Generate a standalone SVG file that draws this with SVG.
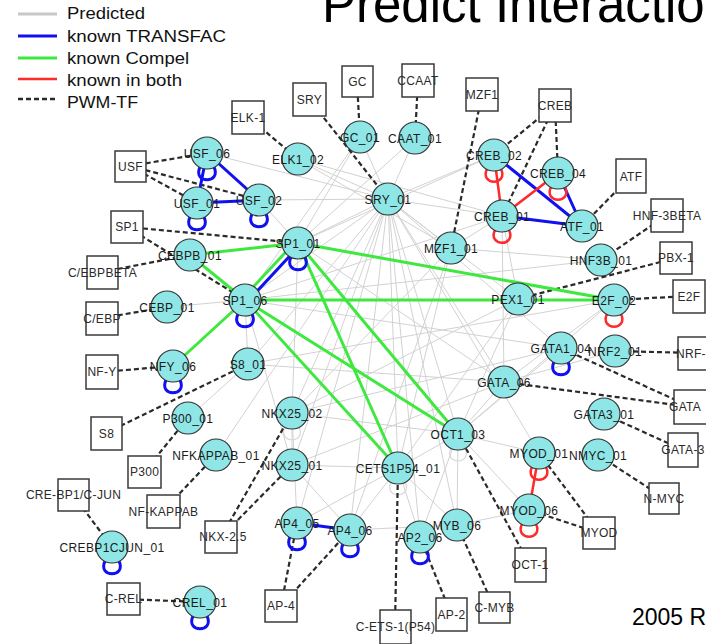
<svg xmlns="http://www.w3.org/2000/svg" width="706" height="644" viewBox="0 0 706 644">
<style>
text{font-family:"Liberation Sans",Arial,sans-serif}
.p{stroke:#d2d2d2;stroke-width:1;fill:none}
.t{stroke:#1010f0;stroke-width:3;fill:none}
.c{stroke:#3ee83e;stroke-width:3;fill:none}
.b{stroke:#ff2a2a;stroke-width:2.5;fill:none}
.d{stroke:#2a2a2a;stroke-width:2.2;stroke-dasharray:5,3;fill:none}
.pl{stroke:#d8d8d8;stroke-width:1.2;fill:none}
.n circle{fill:#8fe6e6;stroke:#333;stroke-width:1.2}
.n text{font-size:12px;fill:#1a1a1a;text-anchor:middle;letter-spacing:0.4px}
.x rect{fill:#fff;stroke:#3a3a3a;stroke-width:1.5}
.x text{font-size:12px;fill:#2a2a2a;text-anchor:middle;letter-spacing:0.3px}
.lg{font-size:16px;fill:#111}
</style>
<rect width="706" height="644" fill="#fff"/>
<text x="322" y="22" font-size="51" fill="#000">Predict Interactio</text>
<text x="632" y="625" font-size="23" fill="#000">2005 R</text>
<g id="legend">
<line x1="18" y1="14" x2="57" y2="14" stroke="#c8c8c8" stroke-width="3"/>
<line x1="18" y1="36" x2="57" y2="36" stroke="#1010f0" stroke-width="3"/>
<line x1="18" y1="58" x2="57" y2="58" stroke="#3ee83e" stroke-width="3"/>
<line x1="18" y1="79" x2="57" y2="79" stroke="#ff2a2a" stroke-width="2.5"/>
<line x1="18" y1="99" x2="57" y2="99" stroke="#2a2a2a" stroke-width="2.5" stroke-dasharray="5,3"/>
<text class="lg" x="67" y="19" textLength="78" lengthAdjust="spacingAndGlyphs">Predicted</text>
<text class="lg" x="67" y="42" textLength="159" lengthAdjust="spacingAndGlyphs">known TRANSFAC</text>
<text class="lg" x="67" y="64" textLength="122" lengthAdjust="spacingAndGlyphs">known Compel</text>
<text class="lg" x="67" y="86" textLength="115" lengthAdjust="spacingAndGlyphs">known in both</text>
<text class="lg" x="67" y="108" textLength="71" lengthAdjust="spacingAndGlyphs">PWM-TF</text>
</g>
<g id="connectors">
<g id="predicted">
<line class="p" x1="388" y1="199" x2="360" y2="137"/>
<line class="p" x1="388" y1="199" x2="415" y2="138"/>
<line class="p" x1="388" y1="199" x2="298" y2="159"/>
<line class="p" x1="388" y1="199" x2="259" y2="200"/>
<line class="p" x1="388" y1="199" x2="207" y2="153"/>
<line class="p" x1="388" y1="199" x2="298" y2="243"/>
<line class="p" x1="388" y1="199" x2="245" y2="300"/>
<line class="p" x1="388" y1="199" x2="494" y2="155"/>
<line class="p" x1="388" y1="199" x2="502" y2="216"/>
<line class="p" x1="388" y1="199" x2="451" y2="248"/>
<line class="p" x1="388" y1="199" x2="518" y2="299"/>
<line class="p" x1="388" y1="199" x2="561" y2="348"/>
<line class="p" x1="388" y1="199" x2="504" y2="382"/>
<line class="p" x1="388" y1="199" x2="458" y2="434"/>
<line class="p" x1="388" y1="199" x2="398" y2="468"/>
<line class="p" x1="388" y1="199" x2="292" y2="413"/>
<line class="p" x1="388" y1="199" x2="292" y2="465"/>
<line class="p" x1="388" y1="199" x2="297" y2="523"/>
<line class="p" x1="388" y1="199" x2="350" y2="530"/>
<line class="p" x1="388" y1="199" x2="420" y2="537"/>
<line class="p" x1="388" y1="199" x2="457" y2="525"/>
<line class="p" x1="388" y1="199" x2="539" y2="453"/>
<line class="p" x1="388" y1="199" x2="248" y2="364"/>
<line class="p" x1="388" y1="199" x2="216" y2="455"/>
<line class="p" x1="360" y1="137" x2="298" y2="243"/>
<line class="p" x1="360" y1="137" x2="245" y2="300"/>
<line class="p" x1="415" y1="138" x2="298" y2="243"/>
<line class="p" x1="298" y1="159" x2="451" y2="248"/>
<line class="p" x1="298" y1="159" x2="502" y2="216"/>
<line class="p" x1="259" y1="200" x2="298" y2="243"/>
<line class="p" x1="502" y1="216" x2="451" y2="248"/>
<line class="p" x1="502" y1="216" x2="518" y2="299"/>
<line class="p" x1="494" y1="155" x2="298" y2="243"/>
<line class="p" x1="601" y1="260" x2="451" y2="248"/>
<line class="p" x1="601" y1="260" x2="245" y2="300"/>
<line class="p" x1="518" y1="299" x2="292" y2="413"/>
<line class="p" x1="518" y1="299" x2="398" y2="468"/>
<line class="p" x1="518" y1="299" x2="458" y2="434"/>
<line class="p" x1="614" y1="300" x2="504" y2="382"/>
<line class="p" x1="614" y1="300" x2="248" y2="364"/>
<line class="p" x1="561" y1="348" x2="458" y2="434"/>
<line class="p" x1="561" y1="348" x2="292" y2="413"/>
<line class="p" x1="504" y1="382" x2="458" y2="434"/>
<line class="p" x1="504" y1="382" x2="248" y2="364"/>
<line class="p" x1="504" y1="382" x2="292" y2="465"/>
<line class="p" x1="458" y1="434" x2="539" y2="453"/>
<line class="p" x1="458" y1="434" x2="529" y2="510"/>
<line class="p" x1="458" y1="434" x2="398" y2="468"/>
<line class="p" x1="458" y1="434" x2="292" y2="413"/>
<line class="p" x1="458" y1="434" x2="420" y2="537"/>
<line class="p" x1="457" y1="525" x2="529" y2="510"/>
<line class="p" x1="457" y1="525" x2="458" y2="434"/>
<line class="p" x1="350" y1="530" x2="457" y2="525"/>
<line class="p" x1="398" y1="468" x2="292" y2="465"/>
<line class="p" x1="398" y1="468" x2="350" y2="530"/>
<line class="p" x1="398" y1="468" x2="297" y2="523"/>
<line class="p" x1="398" y1="468" x2="457" y2="525"/>
<line class="p" x1="398" y1="468" x2="420" y2="537"/>
<line class="p" x1="292" y1="413" x2="292" y2="465"/>
<line class="p" x1="292" y1="413" x2="297" y2="523"/>
<line class="p" x1="292" y1="465" x2="350" y2="530"/>
<line class="p" x1="245" y1="300" x2="248" y2="364"/>
<line class="p" x1="167" y1="307" x2="245" y2="300"/>
<line class="p" x1="298" y1="243" x2="292" y2="413"/>
<line class="p" x1="298" y1="243" x2="504" y2="382"/>
<line class="p" x1="245" y1="300" x2="292" y2="465"/>
<line class="p" x1="245" y1="300" x2="561" y2="348"/>
<line class="p" x1="451" y1="248" x2="292" y2="413"/>
<line class="p" x1="451" y1="248" x2="398" y2="468"/>
<line class="p" x1="451" y1="248" x2="350" y2="530"/>
<line class="p" x1="502" y1="216" x2="504" y2="382"/>
<line class="p" x1="502" y1="216" x2="245" y2="300"/>
<line class="p" x1="614" y1="300" x2="458" y2="434"/>
<line class="p" x1="615" y1="351" x2="504" y2="382"/>
<line class="p" x1="188" y1="418" x2="248" y2="364"/>
<path class="pl" d="M285 427 C277 444 307 444 299 427"/>
<path class="pl" d="M391 482 C383 499 413 499 405 482"/>
<path class="pl" d="M451 448 C443 465 473 465 465 448"/>
</g>
<g id="pwm">
<line class="d" x1="130" y1="166" x2="207" y2="153"/>
<line class="d" x1="130" y1="166" x2="197" y2="203"/>
<line class="d" x1="130" y1="166" x2="259" y2="200"/>
<line class="d" x1="248" y1="117" x2="298" y2="159"/>
<line class="d" x1="309" y1="99" x2="388" y2="199"/>
<line class="d" x1="357" y1="81" x2="360" y2="137"/>
<line class="d" x1="418" y1="80" x2="415" y2="138"/>
<line class="d" x1="482" y1="94" x2="451" y2="248"/>
<line class="d" x1="555" y1="105" x2="494" y2="155"/>
<line class="d" x1="555" y1="105" x2="502" y2="216"/>
<line class="d" x1="555" y1="105" x2="558" y2="173"/>
<line class="d" x1="631" y1="176" x2="582" y2="226"/>
<line class="d" x1="667" y1="215" x2="601" y2="260"/>
<line class="d" x1="676" y1="258" x2="518" y2="299"/>
<line class="d" x1="689" y1="296" x2="614" y2="300"/>
<line class="d" x1="694" y1="353" x2="615" y2="351"/>
<line class="d" x1="691" y1="407" x2="561" y2="348"/>
<line class="d" x1="691" y1="407" x2="504" y2="382"/>
<line class="d" x1="683" y1="450" x2="604" y2="414"/>
<line class="d" x1="664" y1="498" x2="598" y2="455"/>
<line class="d" x1="599" y1="533" x2="539" y2="453"/>
<line class="d" x1="599" y1="533" x2="529" y2="510"/>
<line class="d" x1="530" y1="565" x2="458" y2="434"/>
<line class="d" x1="494" y1="607" x2="457" y2="525"/>
<line class="d" x1="451" y1="614" x2="420" y2="537"/>
<line class="d" x1="395" y1="626" x2="398" y2="468"/>
<line class="d" x1="281" y1="606" x2="297" y2="523"/>
<line class="d" x1="281" y1="606" x2="350" y2="530"/>
<line class="d" x1="221" y1="537" x2="292" y2="413"/>
<line class="d" x1="221" y1="537" x2="292" y2="465"/>
<line class="d" x1="163" y1="511" x2="216" y2="455"/>
<line class="d" x1="144" y1="472" x2="188" y2="418"/>
<line class="d" x1="106" y1="433" x2="248" y2="364"/>
<line class="d" x1="73" y1="495" x2="112" y2="547"/>
<line class="d" x1="123" y1="599" x2="200" y2="602"/>
<line class="d" x1="102" y1="372" x2="173" y2="366"/>
<line class="d" x1="102" y1="318" x2="167" y2="307"/>
<line class="d" x1="102" y1="272" x2="190" y2="255"/>
<line class="d" x1="127" y1="227" x2="298" y2="243"/>
<line class="d" x1="127" y1="227" x2="245" y2="300"/>
</g>
<g id="compel">
<line class="c" x1="190" y1="255" x2="298" y2="243"/>
<line class="c" x1="190" y1="255" x2="245" y2="300"/>
<line class="c" x1="243" y1="298" x2="296" y2="241"/>
<line class="c" x1="173" y1="366" x2="245" y2="300" stroke-width="4.5"/>
<line class="c" x1="298" y1="243" x2="614" y2="300"/>
<line class="c" x1="245" y1="300" x2="614" y2="300"/>
<line class="c" x1="298" y1="243" x2="458" y2="434"/>
<line class="c" x1="298" y1="243" x2="398" y2="468"/>
<line class="c" x1="245" y1="300" x2="458" y2="434"/>
<line class="c" x1="245" y1="300" x2="398" y2="468"/>
</g>
<g id="transfac">
<line class="t" x1="207" y1="153" x2="197" y2="203"/>
<line class="t" x1="207" y1="153" x2="259" y2="200"/>
<line class="t" x1="197" y1="203" x2="259" y2="200"/>
<line class="t" x1="247" y1="302" x2="300" y2="245" stroke-width="2.5"/>
<line class="t" x1="494" y1="155" x2="582" y2="226"/>
<line class="t" x1="558" y1="173" x2="582" y2="226"/>
<line class="t" x1="502" y1="216" x2="582" y2="226"/>
<line class="t" x1="297" y1="523" x2="350" y2="530"/>
<path class="t" d="M200 167 C192 184 222 184 214 167"/>
<path class="t" d="M190 217 C182 234 212 234 204 217"/>
<path class="t" d="M252 214 C244 231 274 231 266 214"/>
<path class="t" d="M291 257 C283 274 313 274 305 257"/>
<path class="t" d="M238 314 C230 331 260 331 252 314"/>
<path class="t" d="M166 380 C158 397 188 397 180 380"/>
<path class="t" d="M554 362 C546 379 576 379 568 362"/>
<path class="t" d="M290 537 C282 554 312 554 304 537"/>
<path class="t" d="M343 544 C335 561 365 561 357 544"/>
<path class="t" d="M413 551 C405 568 435 568 427 551"/>
<path class="t" d="M105 561 C97 578 127 578 119 561"/>
<path class="t" d="M193 616 C185 633 215 633 207 616"/>
</g>
<g id="both">
<line class="b" x1="494" y1="155" x2="502" y2="216"/>
<line class="b" x1="502" y1="216" x2="558" y2="173"/>
<line class="b" x1="539" y1="453" x2="529" y2="510"/>
<path class="b" d="M487 169 C479 186 509 186 501 169"/>
<path class="b" d="M551 187 C543 204 573 204 565 187"/>
<path class="b" d="M495 230 C487 247 517 247 509 230"/>
<path class="b" d="M607 314 C599 331 629 331 621 314"/>
<path class="b" d="M532 467 C524 484 554 484 546 467"/>
<path class="b" d="M522 524 C514 541 544 541 536 524"/>
</g>
</g>
<g id="boxes">
<g id="b-USF" class="x"><rect x="115" y="151" width="31" height="31"/><text x="130.5" y="171">USF</text></g>
<g id="b-ELK-1" class="x"><rect x="232" y="101" width="32" height="33"/><text x="248" y="122">ELK-1</text></g>
<g id="b-SRY" class="x"><rect x="293" y="83" width="33" height="33"/><text x="309.5" y="104">SRY</text></g>
<g id="b-GC" class="x"><rect x="342" y="66" width="31" height="31"/><text x="357.5" y="86">GC</text></g>
<g id="b-CCAAT" class="x"><rect x="402" y="64" width="32" height="33"/><text x="418" y="85">CCAAT</text></g>
<g id="b-MZF1" class="x"><rect x="466" y="78" width="32" height="33"/><text x="482" y="99">MZF1</text></g>
<g id="b-CREB" class="x"><rect x="539" y="89" width="32" height="33"/><text x="555" y="110">CREB</text></g>
<g id="b-ATF" class="x"><rect x="616" y="159" width="30" height="34"/><text x="631" y="181">ATF</text></g>
<g id="b-HNF-3BETA" class="x"><rect x="651" y="199" width="32" height="33"/><text x="667" y="220">HNF-3BETA</text></g>
<g id="b-PBX-1" class="x"><rect x="660" y="242" width="32" height="32"/><text x="676" y="262">PBX-1</text></g>
<g id="b-E2F" class="x"><rect x="673" y="280" width="32" height="33"/><text x="689" y="301">E2F</text></g>
<g id="b-NRF" class="x"><rect x="678" y="337" width="34" height="33"/><text x="676" y="358" style="text-anchor:start">NRF-</text></g>
<g id="b-GATA" class="x"><rect x="674" y="390" width="36" height="34"/><text x="669" y="411" style="text-anchor:start">GATA</text></g>
<g id="b-GATA-3" class="x"><rect x="668" y="433" width="30" height="34"/><text x="683" y="454">GATA-3</text></g>
<g id="b-N-MYC" class="x"><rect x="649" y="483" width="30" height="31"/><text x="664" y="503">N-MYC</text></g>
<g id="b-MYOD" class="x"><rect x="583" y="517" width="32" height="32"/><text x="599" y="537">MYOD</text></g>
<g id="b-OCT-1" class="x"><rect x="515" y="548" width="31" height="34"/><text x="530" y="569">OCT-1</text></g>
<g id="b-C-MYB" class="x"><rect x="479" y="592" width="31" height="31"/><text x="494.5" y="612">C-MYB</text></g>
<g id="b-AP-2" class="x"><rect x="436" y="598" width="31" height="33"/><text x="451.5" y="619">AP-2</text></g>
<g id="b-C-ETS-1" class="x"><rect x="380" y="610" width="31" height="34"/><text x="395.5" y="631">C-ETS-1(P54)</text></g>
<g id="b-AP-4" class="x"><rect x="265" y="590" width="32" height="32"/><text x="281" y="610">AP-4</text></g>
<g id="b-NKX-2.5" class="x"><rect x="205" y="521" width="32" height="32"/><text x="223" y="541">NKX-2.5</text></g>
<g id="b-NF-KAPPAB" class="x"><rect x="147" y="495" width="33" height="33"/><text x="163.5" y="516">NF-KAPPAB</text></g>
<g id="b-P300" class="x"><rect x="128" y="456" width="33" height="32"/><text x="144.5" y="476">P300</text></g>
<g id="b-S8" class="x"><rect x="91" y="417" width="31" height="33"/><text x="106.5" y="438">S8</text></g>
<g id="b-CRE-BP1" class="x"><rect x="58" y="479" width="31" height="32"/><text x="73.5" y="499">CRE-BP1/C-JUN</text></g>
<g id="b-C-REL" class="x"><rect x="107" y="583" width="33" height="32"/><text x="123.5" y="603">C-REL</text></g>
<g id="b-NF-Y" class="x"><rect x="86" y="355" width="32" height="34"/><text x="102" y="376">NF-Y</text></g>
<g id="b-C-EBP" class="x"><rect x="86" y="302" width="32" height="33"/><text x="102" y="323">C/EBP</text></g>
<g id="b-C-EBPBETA" class="x"><rect x="87" y="256" width="31" height="33"/><text x="102.5" y="277">C/EBPBETA</text></g>
<g id="b-SP1" class="x"><rect x="111" y="211" width="32" height="32"/><text x="127" y="231">SP1</text></g>
</g>
<g id="nodes">
<g id="USF_06" class="n"><circle cx="207" cy="153" r="16"/><text x="207" y="157.5">USF_06</text></g>
<g id="USF_01" class="n"><circle cx="197" cy="203" r="16"/><text x="197" y="207.5">USF_01</text></g>
<g id="USF_02" class="n"><circle cx="259" cy="200" r="16"/><text x="259" y="204.5">USF_02</text></g>
<g id="ELK1_02" class="n"><circle cx="298" cy="159" r="16"/><text x="298" y="163.5">ELK1_02</text></g>
<g id="GC_01" class="n"><circle cx="360" cy="137" r="16"/><text x="360" y="141.5">GC_01</text></g>
<g id="CAAT_01" class="n"><circle cx="415" cy="138" r="16"/><text x="415" y="142.5">CAAT_01</text></g>
<g id="SRY_01" class="n"><circle cx="388" cy="199" r="16"/><text x="388" y="203.5">SRY_01</text></g>
<g id="MZF1_01" class="n"><circle cx="451" cy="248" r="16"/><text x="451" y="252.5">MZF1_01</text></g>
<g id="CREB_02" class="n"><circle cx="494" cy="155" r="16"/><text x="494" y="159.5">CREB_02</text></g>
<g id="CREB_04" class="n"><circle cx="558" cy="173" r="16"/><text x="558" y="177.5">CREB_04</text></g>
<g id="CREB_01" class="n"><circle cx="502" cy="216" r="16"/><text x="502" y="220.5">CREB_01</text></g>
<g id="ATF_01" class="n"><circle cx="582" cy="226" r="16"/><text x="582" y="230.5">ATF_01</text></g>
<g id="HNF3B_01" class="n"><circle cx="601" cy="260" r="16"/><text x="601" y="264.5">HNF3B_01</text></g>
<g id="PEX1_01" class="n"><circle cx="518" cy="299" r="16"/><text x="518" y="303.5">PEX1_01</text></g>
<g id="E2F_02" class="n"><circle cx="614" cy="300" r="16"/><text x="614" y="304.5">E2F_02</text></g>
<g id="GATA1_04" class="n"><circle cx="561" cy="348" r="16"/><text x="561" y="352.5">GATA1_04</text></g>
<g id="NRF2_01" class="n"><circle cx="615" cy="351" r="16"/><text x="615" y="355.5">NRF2_01</text></g>
<g id="GATA_06" class="n"><circle cx="504" cy="382" r="16"/><text x="504" y="386.5">GATA_06</text></g>
<g id="GATA3_01" class="n"><circle cx="604" cy="414" r="16"/><text x="604" y="418.5">GATA3_01</text></g>
<g id="MYOD_01" class="n"><circle cx="539" cy="453" r="16"/><text x="539" y="457.5">MYOD_01</text></g>
<g id="NMYC_01" class="n"><circle cx="598" cy="455" r="16"/><text x="598" y="459.5">NMYC_01</text></g>
<g id="MYOD_06" class="n"><circle cx="529" cy="510" r="16"/><text x="529" y="514.5">MYOD_06</text></g>
<g id="OCT1_03" class="n"><circle cx="458" cy="434" r="16"/><text x="458" y="438.5">OCT1_03</text></g>
<g id="MYB_06" class="n"><circle cx="457" cy="525" r="16"/><text x="457" y="529.5">MYB_06</text></g>
<g id="AP2_06" class="n"><circle cx="420" cy="537" r="16"/><text x="420" y="541.5">AP2_06</text></g>
<g id="CETS1P54_01" class="n"><circle cx="398" cy="468" r="16"/><text x="398" y="472.5">CETS1P54_01</text></g>
<g id="AP4_06" class="n"><circle cx="350" cy="530" r="16"/><text x="350" y="534.5">AP4_06</text></g>
<g id="AP4_05" class="n"><circle cx="297" cy="523" r="16"/><text x="297" y="527.5">AP4_05</text></g>
<g id="NKX25_01" class="n"><circle cx="292" cy="465" r="16"/><text x="292" y="469.5">NKX25_01</text></g>
<g id="NKX25_02" class="n"><circle cx="292" cy="413" r="16"/><text x="292" y="417.5">NKX25_02</text></g>
<g id="NFKAPPAB_01" class="n"><circle cx="216" cy="455" r="16"/><text x="216" y="459.5">NFKAPPAB_01</text></g>
<g id="P300_01" class="n"><circle cx="188" cy="418" r="16"/><text x="188" y="422.5">P300_01</text></g>
<g id="S8_01" class="n"><circle cx="248" cy="364" r="16"/><text x="248" y="368.5">S8_01</text></g>
<g id="NFY_06" class="n"><circle cx="173" cy="366" r="16"/><text x="173" y="370.5">NFY_06</text></g>
<g id="CEBP_01" class="n"><circle cx="167" cy="307" r="16"/><text x="167" y="311.5">CEBP_01</text></g>
<g id="SP1_06" class="n"><circle cx="245" cy="300" r="16"/><text x="245" y="304.5">SP1_06</text></g>
<g id="CEBPB_01" class="n"><circle cx="190" cy="255" r="16"/><text x="190" y="259.5">CEBPB_01</text></g>
<g id="SP1_01" class="n"><circle cx="298" cy="243" r="16"/><text x="298" y="247.5">SP1_01</text></g>
<g id="CREBP1CJUN_01" class="n"><circle cx="112" cy="547" r="16"/><text x="112" y="551.5">CREBP1CJUN_01</text></g>
<g id="CREL_01" class="n"><circle cx="200" cy="602" r="16"/><text x="200" y="606.5">CREL_01</text></g>
</g>
</svg>
